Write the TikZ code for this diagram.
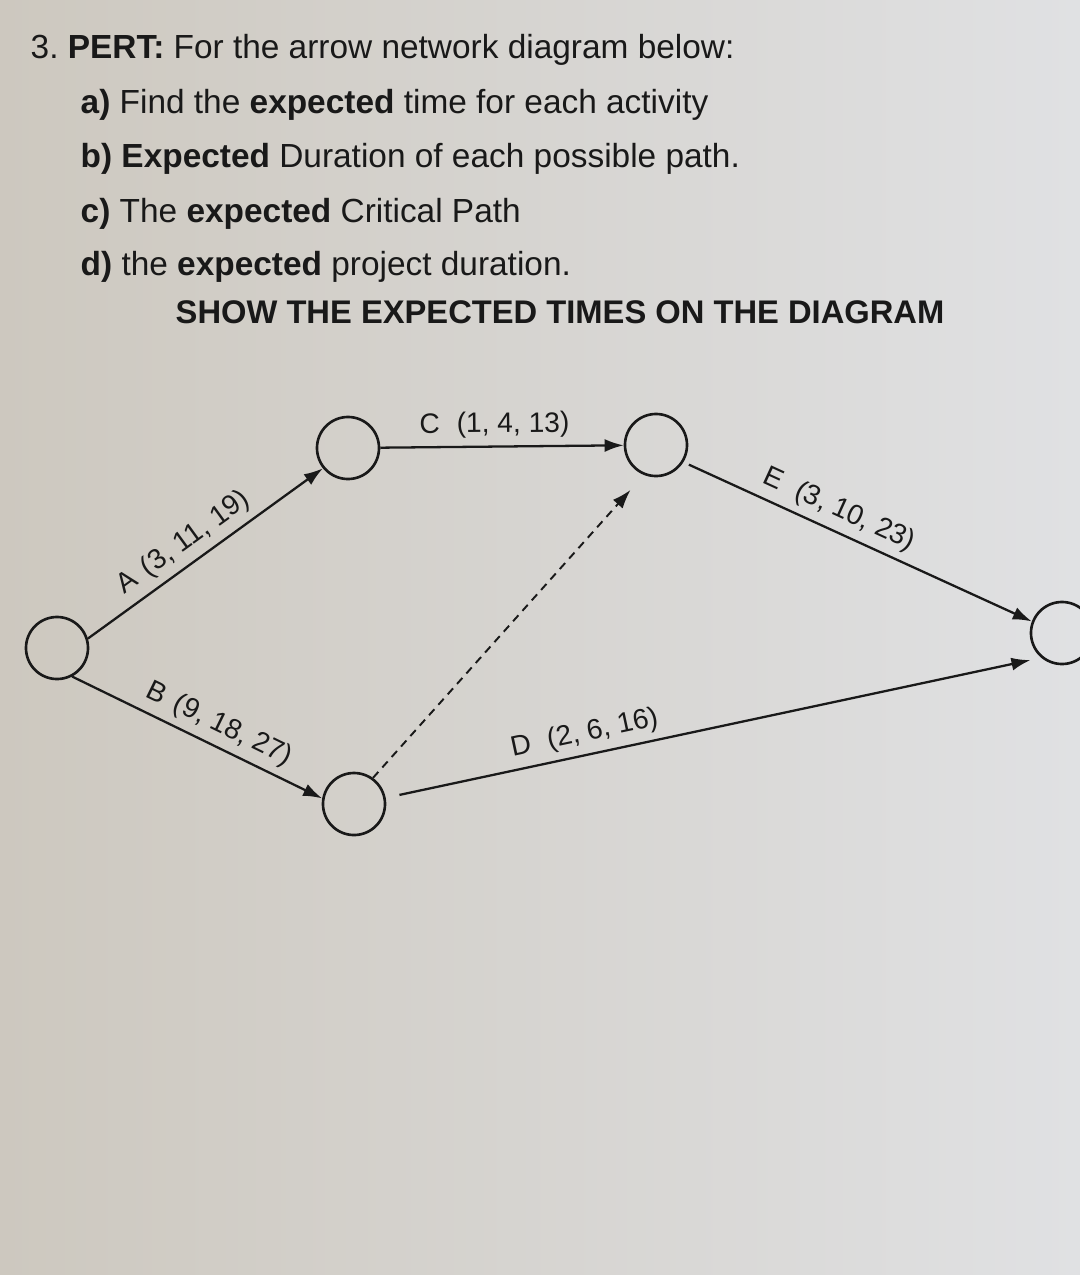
\documentclass[tikz,border=0pt]{standalone}
\usepackage{fontspec}
\setmainfont{Liberation Sans}
\usetikzlibrary{arrows.meta}

\definecolor{paperleft}{RGB}{205,200,191}
\definecolor{paperright}{RGB}{224,225,227}
\definecolor{ink}{RGB}{25,25,25}

\tikzset{>={Latex[length=1.9mm, width=1.3mm]},
             event/.style={draw=ink, circle, minimum size=0.62cm, inner sep=0pt, line width=0.75pt},
               act/.style={->, draw=ink, line width=0.65pt},
             dummy/.style={act, line width=0.55pt, dash pattern=on 0.8mm off 0.6mm},
               lbl/.style={sloped, above=0.07cm, inner sep=0pt, text=ink, font=\fontsize{8}{9}\selectfont},
               ask/.style={anchor=base west, inner sep=0pt, text=ink, font=\fontsize{9.5}{12}\selectfont}}

\begin{document}
\begin{tikzpicture}[x=0.01cm, y=-0.01cm]
        \clip (0,0) rectangle (1080,1275);
        \shade[left color=paperleft, right color=paperright] (0,0) rectangle (1080,1275);

        % question
        \node[ask] at ( 30,  58) (title) {3.\ \textbf{PERT:} For the arrow network diagram below:};
        \node[ask] at ( 80, 113) (qa)    {\textbf{a)} Find the \textbf{expected} time for each activity};
        \node[ask] at ( 80, 167) (qb)    {\textbf{b) Expected} Duration of each possible path.};
        \node[ask] at ( 80, 222) (qc)    {\textbf{c)} The \textbf{expected} Critical Path};
        \node[ask] at ( 80, 275) (qd)    {\textbf{d)} the \textbf{expected} project duration.};
        \node[ask, font=\fontsize{9.3}{11}\selectfont\bfseries] at (175, 323) (show) {SHOW THE EXPECTED TIMES ON THE DIAGRAM};

        % events
        \node[event] at (  57, 648) (start)    {};
        \node[event] at ( 348, 448) (topleft)  {};
        \node[event] at ( 656, 445) (topright) {};
        \node[event] at ( 354, 804) (bottom)   {};
        \node[event] at (1062, 633) (finish)   {};

        % activities
        \draw[act] (start.17) -- (topleft.219)
            node[lbl, pos=0.46] {A\hspace{0.4em}(3, 11, 19)};
        \draw[act] (start.-62) -- (bottom.170)
            node[lbl, pos=0.55] {B\hspace{0.4em}(9, 18, 27)};
        \draw[act] (topleft) -- (topright)
            node[lbl, pos=0.47] {C\hspace{0.6em}(1, 4, 13)};
        \draw[act, shorten <=0.14cm, shorten >=0.11cm] (bottom.11) -- (finish.230)
            node[lbl, pos=0.31] {D\hspace{0.6em}(2, 6, 16)};
        \draw[act, shorten <=0.06cm] (topright.-32) -- (finish.159)
            node[lbl, pos=0.42] {E\hspace{0.6em}(3, 10, 23)};

        % dummy
        \draw[dummy, shorten >=0.2cm] (bottom.54) -- (topright.248);
\end{tikzpicture}
\end{document}
